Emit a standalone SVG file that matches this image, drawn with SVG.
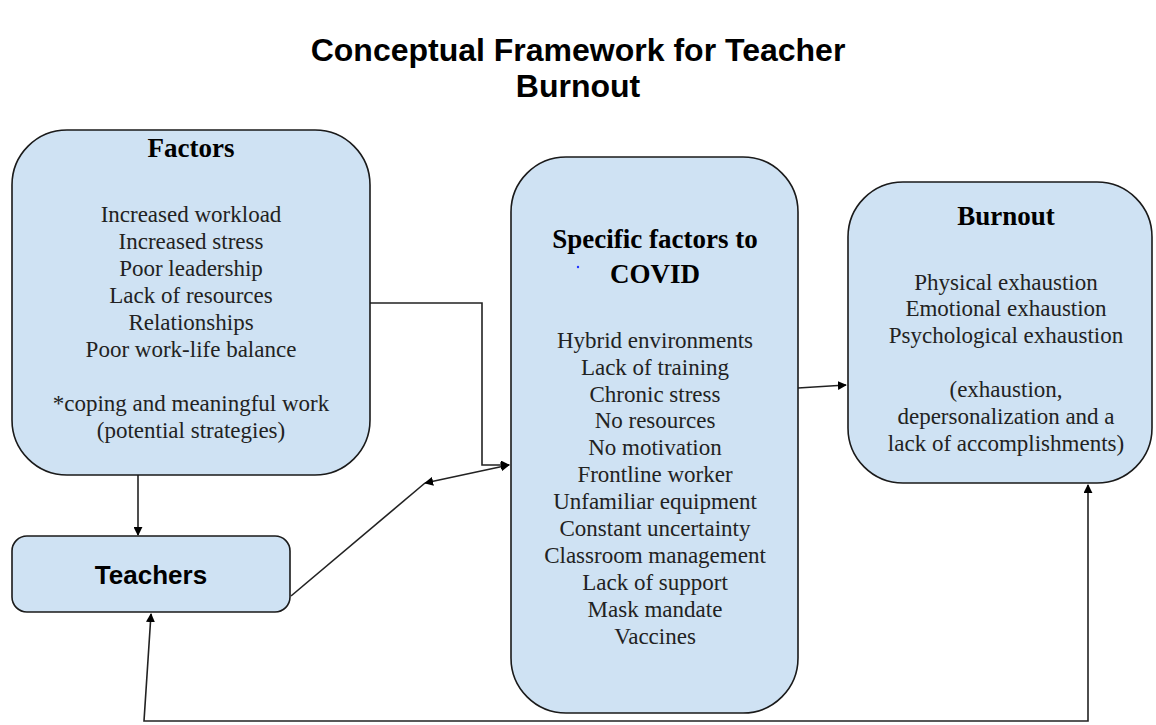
<svg xmlns="http://www.w3.org/2000/svg" width="1156" height="725" viewBox="0 0 1156 725">
  <style>
    .box { fill: #cfe2f3; stroke: #1a1a1a; stroke-width: 1.6; }
    .title { font-family: "Liberation Sans", Arial, sans-serif; font-weight: bold; font-size: 32px; fill: #000; text-anchor: middle; }
    .head { font-family: "Liberation Serif", "Times New Roman", serif; font-weight: bold; font-size: 27px; fill: #000; text-anchor: middle; }
    .body { font-family: "Liberation Serif", "Times New Roman", serif; font-size: 23px; fill: #222; text-anchor: middle; }
    .label { font-family: "Liberation Sans", Arial, sans-serif; font-weight: bold; font-size: 26px; fill: #000; text-anchor: middle; }
    .conn { fill: none; stroke: #222; stroke-width: 1.6; }
  </style>
  <defs>
    <marker id="arrow" viewBox="0 0 10 10" refX="9" refY="5" markerWidth="9" markerHeight="9" markerUnits="userSpaceOnUse" orient="auto-start-reverse">
      <path d="M0,0 L10,5 L0,10 Z" fill="#000"/>
    </marker>
  </defs>

  <rect width="1156" height="725" fill="#fff"/>

  <!-- heading -->
  <g id="heading">
    <text class="title" x="578" y="61">Conceptual Framework for Teacher</text>
    <text class="title" x="578" y="97">Burnout</text>
  </g>

  <!-- connectors -->
  <g id="connectors">
    <polyline class="conn" points="370,303 482,303 482,465 509,465" marker-end="url(#arrow)"/>
    <line class="conn" x1="291" y1="596" x2="425" y2="483"/>
    <line class="conn" x1="425" y1="483" x2="509" y2="465" marker-start="url(#arrow)" marker-end="url(#arrow)"/>
    <line class="conn" x1="798" y1="388" x2="846" y2="385" marker-end="url(#arrow)"/>
    <line class="conn" x1="138" y1="475" x2="138" y2="535" marker-end="url(#arrow)"/>
    <polyline class="conn" points="151,614 144,721 1088,721 1088,485" marker-start="url(#arrow)" marker-end="url(#arrow)"/>
  </g>

  <!-- factors -->
  <g id="factors">
    <rect class="box" x="12" y="130" width="358" height="345" rx="55" ry="55"/>
    <text class="head" x="191" y="157">Factors</text>
    <text class="body" x="191" y="222">Increased workload</text>
    <text class="body" x="191" y="249">Increased stress</text>
    <text class="body" x="191" y="276">Poor leadership</text>
    <text class="body" x="191" y="303">Lack of resources</text>
    <text class="body" x="191" y="330">Relationships</text>
    <text class="body" x="191" y="357">Poor work-life balance</text>
    <text class="body" x="191" y="411">*coping and meaningful work</text>
    <text class="body" x="191" y="438">(potential strategies)</text>
  </g>

  <!-- teachers -->
  <g id="teachers">
    <rect class="box" x="12" y="536" width="278" height="76" rx="15" ry="15"/>
    <text class="label" x="151" y="584">Teachers</text>
  </g>

  <!-- covid-specific factors -->
  <g id="covid-factors">
    <rect class="box" x="511" y="157" width="287" height="556" rx="55" ry="55"/>
    <text class="head" x="655" y="248">Specific factors to</text>
    <text class="head" x="655" y="283">COVID</text>
    <circle cx="578" cy="267" r="1.2" fill="#2233ff"/>
    <text class="body" x="655" y="348">Hybrid environments</text>
    <text class="body" x="655" y="375">Lack of training</text>
    <text class="body" x="655" y="402">Chronic stress</text>
    <text class="body" x="655" y="428">No resources</text>
    <text class="body" x="655" y="455">No motivation</text>
    <text class="body" x="655" y="482">Frontline worker</text>
    <text class="body" x="655" y="509">Unfamiliar equipment</text>
    <text class="body" x="655" y="536">Constant uncertainty</text>
    <text class="body" x="655" y="563">Classroom management</text>
    <text class="body" x="655" y="590">Lack of support</text>
    <text class="body" x="655" y="617">Mask mandate</text>
    <text class="body" x="655" y="644">Vaccines</text>
  </g>

  <!-- burnout -->
  <g id="burnout">
    <rect class="box" x="848" y="182" width="304" height="301" rx="55" ry="55"/>
    <text class="head" x="1006" y="225">Burnout</text>
    <text class="body" x="1006" y="290">Physical exhaustion</text>
    <text class="body" x="1006" y="316">Emotional exhaustion</text>
    <text class="body" x="1006" y="343">Psychological exhaustion</text>
    <text class="body" x="1006" y="397">(exhaustion,</text>
    <text class="body" x="1006" y="424">depersonalization and a</text>
    <text class="body" x="1006" y="451">lack of accomplishments)</text>
  </g>
</svg>
